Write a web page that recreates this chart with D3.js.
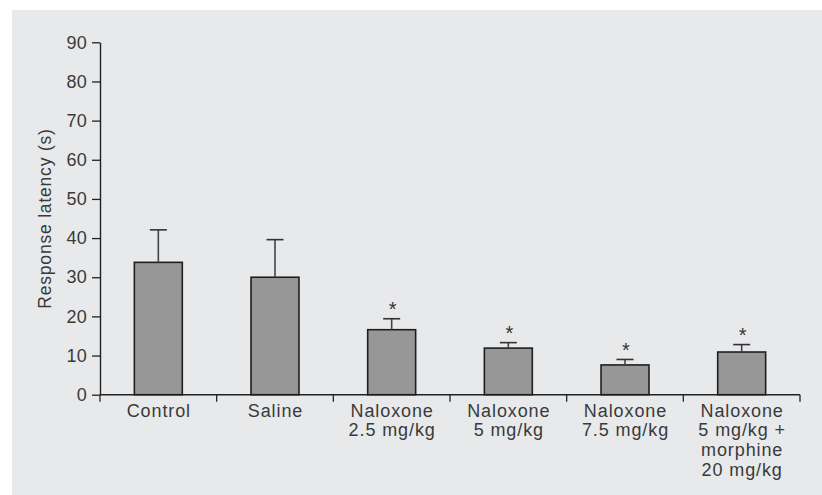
<!DOCTYPE html>
<html>
<head>
<meta charset="utf-8">
<script src="https://cdn.jsdelivr.net/npm/d3@7"></script>
<style>
  body { margin: 0; background: #fff; }
  svg { display: block; }
</style>
</head>
<body>
<script>
// groups along the x axis, each label split into its lines
var groups = ["Control", "Saline", "Nal2.5", "Nal5", "Nal7.5", "NalMor"];
var groupLabels = [
  ["Control"],
  ["Saline"],
  ["Naloxone", "2.5 mg/kg"],
  ["Naloxone", "5 mg/kg"],
  ["Naloxone", "7.5 mg/kg"],
  ["Naloxone", "5 mg/kg +", "morphine", "20 mg/kg"]
];
// mean response latency and top of the error bar (s)
var latency = [33.8, 30.0, 16.6, 11.9, 7.6, 10.9];
var errTop = [42.1, 39.6, 19.4, 13.3, 9.0, 12.8];
var significant = [false, false, true, true, true, true];
var yTicks = [0, 10, 20, 30, 40, 50, 60, 70, 80, 90];

var width = 822, height = 495;
var plotLeft = 100, plotRight = 800, plotTop = 42.3, plotBottom = 394.7;
var font = "'Liberation Sans', Arial, sans-serif";
var textCol = "#3a3a3a";

var svg = d3.select("body").append("svg")
  .attr("width", width)
  .attr("height", height);

svg.append("rect")
  .attr("x", 12).attr("y", 10)
  .attr("width", width - 12).attr("height", height - 10)
  .attr("fill", "#e8e9eb");

var pad = 0.589;
var x = d3.scaleBand().domain(groups).range([plotLeft, plotRight])
  .paddingInner(pad).paddingOuter(pad / 2);
var y = d3.scaleLinear().domain([0, 90]).range([plotBottom, plotTop]);
var step = x.step();

// y axis
var yAxis = svg.append("g")
  .attr("transform", "translate(" + plotLeft + ",0)")
  .call(d3.axisLeft(y).tickValues(yTicks).tickSize(8).tickPadding(5).tickSizeOuter(0));
yAxis.select(".domain").attr("stroke", "#222").attr("stroke-width", 1.4);
yAxis.selectAll(".tick line").attr("stroke", "#222").attr("stroke-width", 1.3);
yAxis.selectAll(".tick text")
  .attr("font-family", font).attr("font-size", "18px")
  .attr("letter-spacing", "0.3px")
  .attr("fill", textCol);

// x axis line and boundary ticks
svg.append("line")
  .attr("x1", plotLeft).attr("x2", plotRight)
  .attr("y1", plotBottom).attr("y2", plotBottom)
  .attr("stroke", "#222").attr("stroke-width", 1.4);

var bounds = d3.range(groups.length + 1);
svg.selectAll(".xtick").data(bounds).enter().append("line")
  .attr("class", "xtick")
  .attr("x1", function(i) { return plotLeft + i * step; })
  .attr("x2", function(i) { return plotLeft + i * step; })
  .attr("y1", plotBottom).attr("y2", plotBottom + 7)
  .attr("stroke", "#222").attr("stroke-width", 1.3);

// bars
svg.selectAll(".bar").data(groups).enter().append("rect")
  .attr("class", "bar")
  .attr("x", function(d) { return x(d); })
  .attr("y", function(d, i) { return y(latency[i]); })
  .attr("width", x.bandwidth())
  .attr("height", function(d, i) { return plotBottom - y(latency[i]); })
  .attr("fill", "#979797")
  .attr("stroke", "#1e1e1e")
  .attr("stroke-width", 1.6);

// error bars
var cx = function(d) { return x(d) + x.bandwidth() / 2; };
svg.selectAll(".err").data(groups).enter().append("line")
  .attr("x1", cx).attr("x2", cx)
  .attr("y1", function(d, i) { return y(latency[i]); })
  .attr("y2", function(d, i) { return y(errTop[i]); })
  .attr("stroke", "#444").attr("stroke-width", 1.6);
svg.selectAll(".cap").data(groups).enter().append("line")
  .attr("x1", function(d) { return cx(d) - 8.5; })
  .attr("x2", function(d) { return cx(d) + 8.5; })
  .attr("y1", function(d, i) { return y(errTop[i]); })
  .attr("y2", function(d, i) { return y(errTop[i]); })
  .attr("stroke", "#333").attr("stroke-width", 1.6);

// significance stars
svg.selectAll(".star").data(groups.filter(function(d, i) { return significant[i]; }))
  .enter().append("text")
  .attr("x", function(d) { return cx(d) + 1; })
  .attr("y", function(d) { return y(errTop[groups.indexOf(d)]) - 2.5; })
  .attr("text-anchor", "middle")
  .attr("font-family", font).attr("font-size", "20px")
  .attr("fill", "#333")
  .text("*");

// category labels
var lab = svg.selectAll(".xlab").data(groups).enter().append("text")
  .attr("text-anchor", "middle")
  .attr("font-family", font).attr("font-size", "18px")
  .attr("letter-spacing", "0.9px")
  .attr("fill", textCol);
lab.each(function(d, i) {
  var t = d3.select(this);
  groupLabels[i].forEach(function(s, j) {
    t.append("tspan")
      .attr("x", cx(d) + 0.5)
      .attr("y", 416.5 + j * 19.7)
      .text(s);
  });
});

// y axis title
svg.append("text")
  .attr("transform", "translate(50.5," + ((plotTop + plotBottom) / 2) + ") rotate(-90)")
  .attr("text-anchor", "middle")
  .attr("font-family", font).attr("font-size", "17.5px")
  .attr("letter-spacing", "0.8px")
  .attr("fill", textCol)
  .text("Response latency (s)");
</script>
</body>
</html>
